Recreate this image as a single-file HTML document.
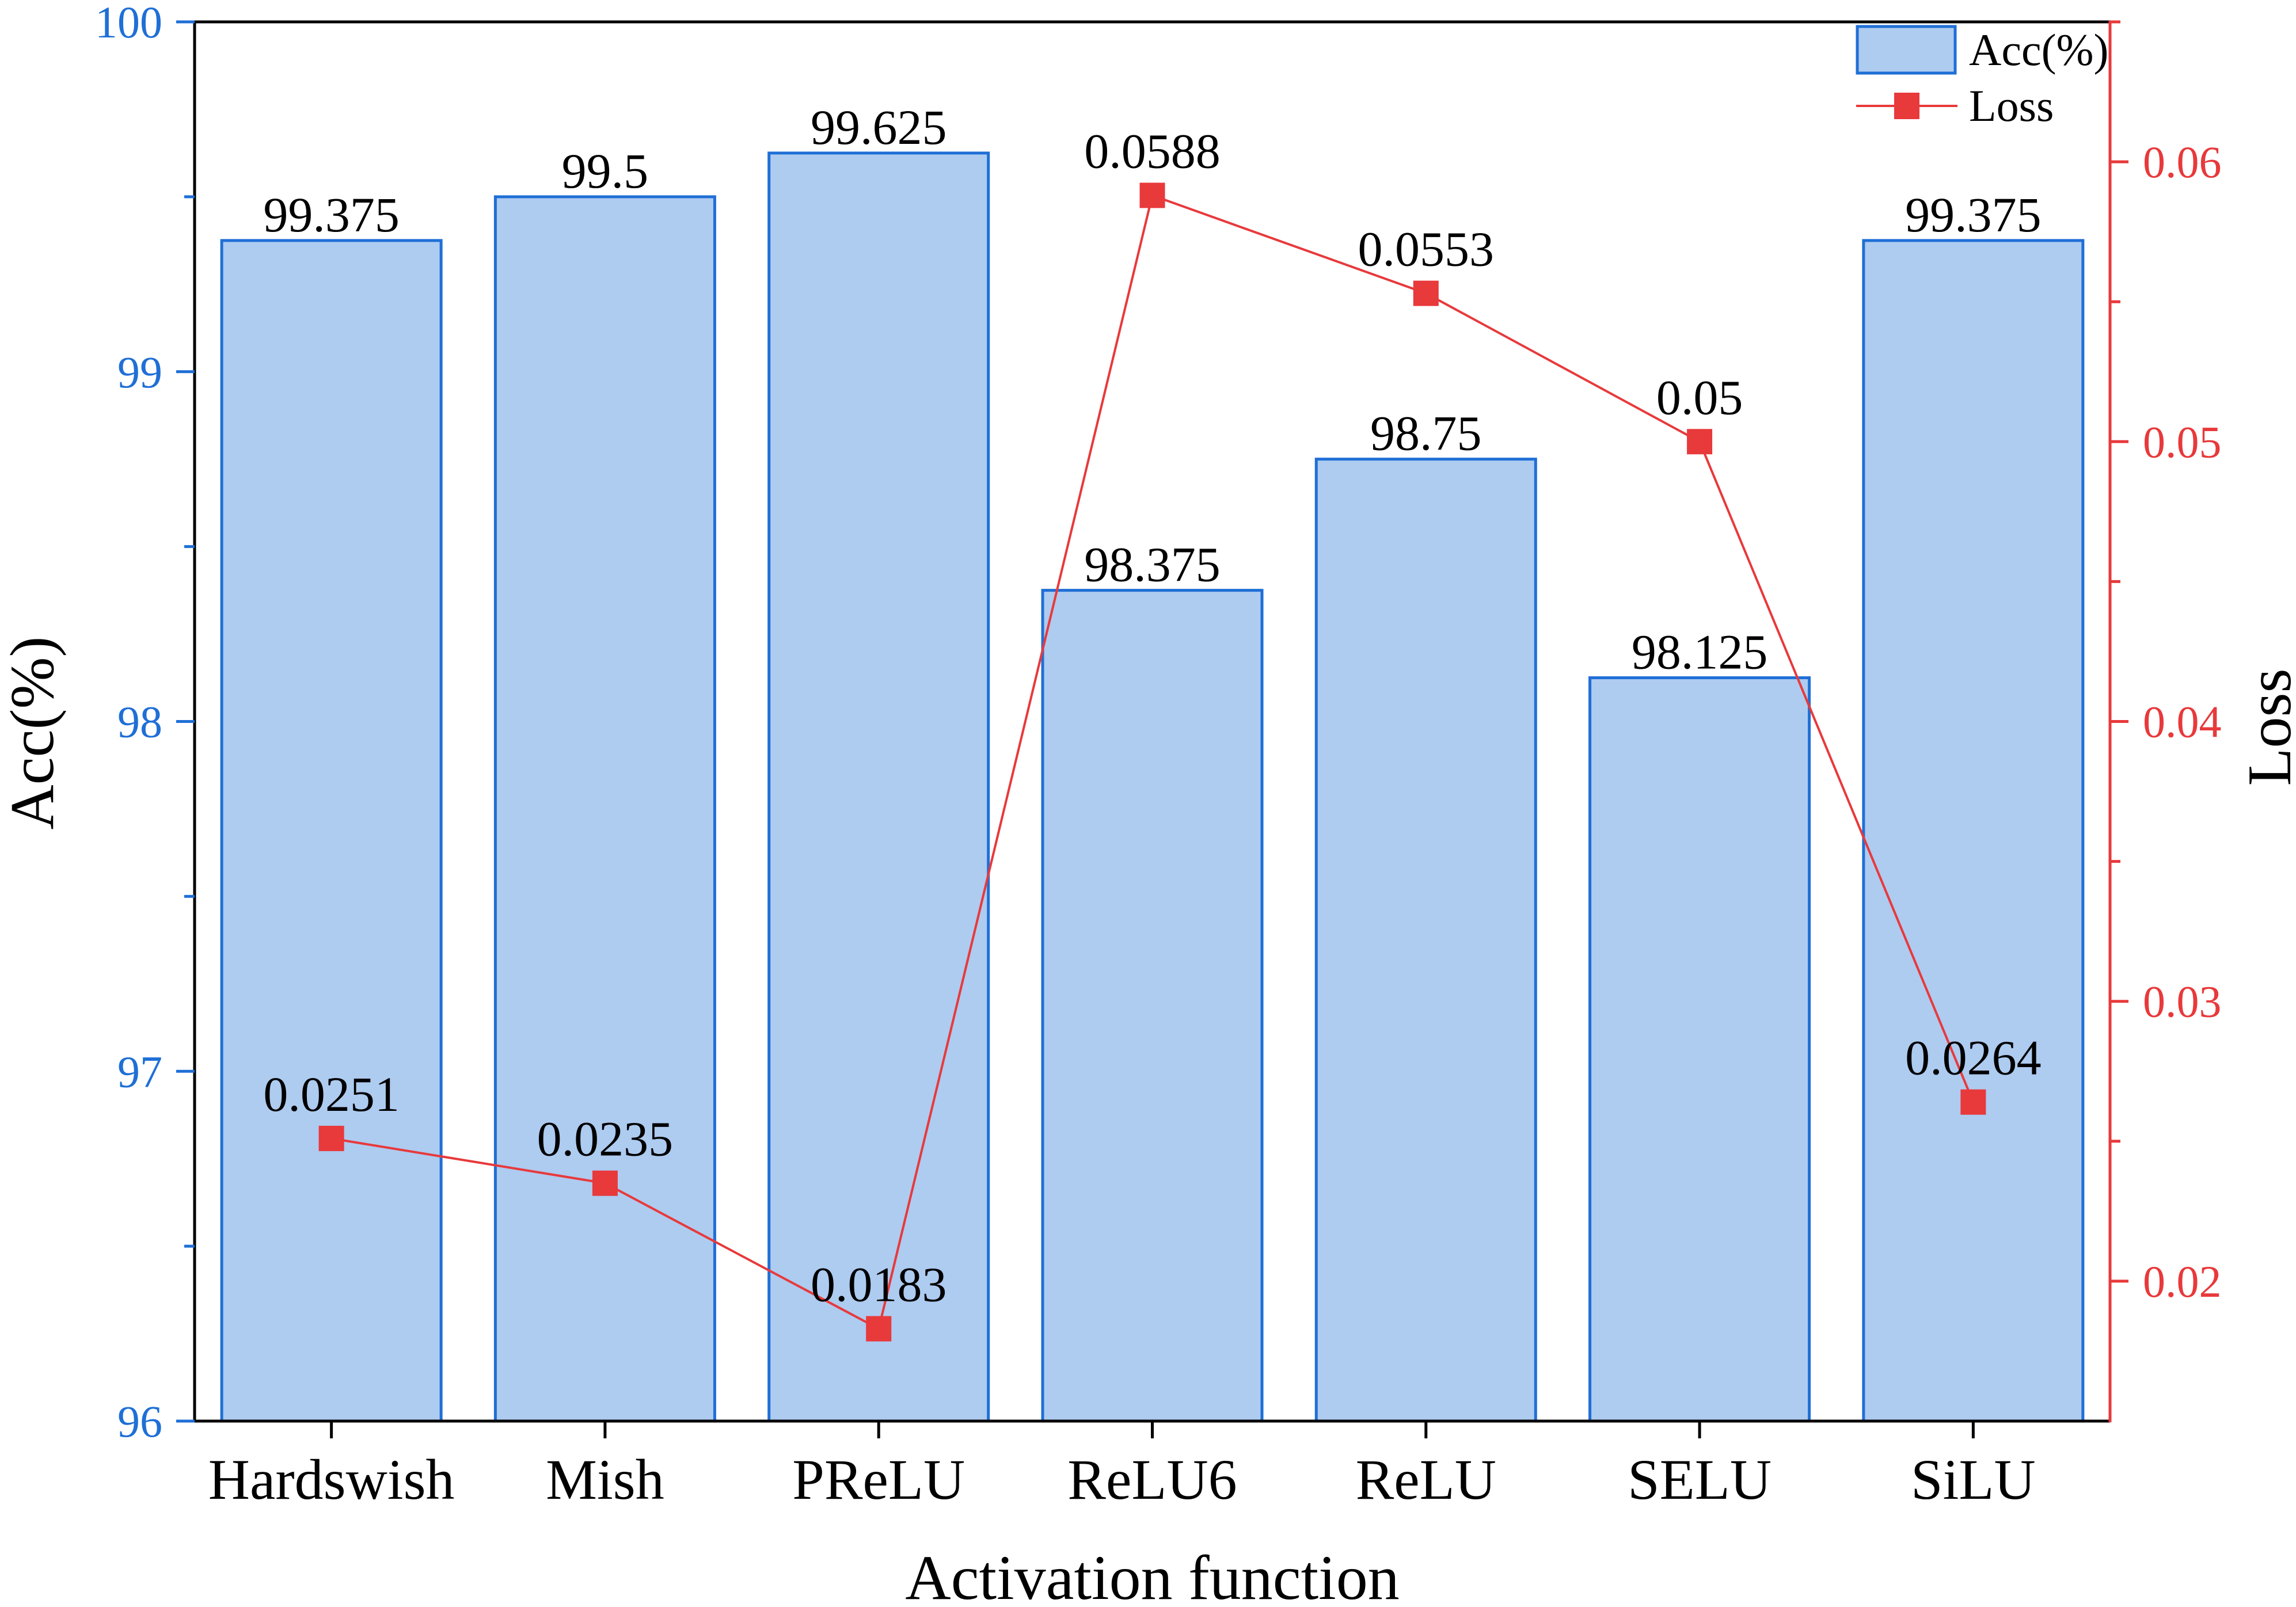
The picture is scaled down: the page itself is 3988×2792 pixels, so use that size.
<!DOCTYPE html>
<html><head><meta charset="utf-8"><style>
html,body{margin:0;padding:0;background:#fff;}
svg{display:block;font-family:"Liberation Serif",serif;}
</style></head><body>
<svg id="chart" width="3988" height="2792" viewBox="0 0 3988 2792" xmlns="http://www.w3.org/2000/svg">
<g id="bars"></g>
<g id="line"></g>
<g id="axes"></g>
<g id="legend">
  <rect x="3226" y="46" width="170" height="81" fill="#aecbf0" stroke="#1f6fd6" stroke-width="5"/>
  <text x="3420" y="113" font-size="78" fill="#000">Acc(%)</text>
  <line x1="3224" y1="184" x2="3400" y2="184" stroke="#e8393b" stroke-width="4"/>
  <rect x="3290" y="161" width="44" height="46" fill="#e8393b"/>
  <text x="3420" y="210" font-size="78" fill="#000">Loss</text>
</g>
</svg>
<script>
const categories = ["Hardswish","Mish","PReLU","ReLU6","ReLU","SELU","SiLU"];
const accValues = [99.375, 99.5, 99.625, 98.375, 98.75, 98.125, 99.375];
const accLabels = ["99.375","99.5","99.625","98.375","98.75","98.125","99.375"];
const lossValues = [0.0251, 0.0235, 0.0183, 0.0588, 0.0553, 0.05, 0.0264];
const lossLabels = ["0.0251","0.0235","0.0183","0.0588","0.0553","0.05","0.0264"];
const leftTicks = [96, 97, 98, 99, 100];
const rightTicks = [0.02, 0.03, 0.04, 0.05, 0.06];
const rightTickLabels = ["0.02","0.03","0.04","0.05","0.06"];

const NS = "http://www.w3.org/2000/svg";
const L = 338, R = 3665, T = 38, B = 2469;
const yAcc = v => B - (v - 96) / 4 * (B - T);
const yLoss = v => B - (v - 0.015) / 0.05 * (B - T);
const band = (R - L) / categories.length;
const xCat = i => L + band * (i + 0.5);
const barW = 381;

function mk(tag, attrs, parent, text) {
  const e = document.createElementNS(NS, tag);
  for (const k in attrs) e.setAttribute(k, attrs[k]);
  if (text !== undefined) e.textContent = text;
  parent.appendChild(e);
  return e;
}
const gBars = document.getElementById("bars");
const gLine = document.getElementById("line");
const gAxes = document.getElementById("axes");

categories.forEach((c, i) => {
  const y = yAcc(accValues[i]);
  const r = mk("rect", {x: xCat(i) - barW/2, y: y, width: barW, height: B - y, fill: "#aecbf0", stroke: "#1f6fd6", "stroke-width": 5}, gBars);
  
  
  const t = mk("text", {x: xCat(i), y: y - 16, "font-size": 86, "text-anchor": "middle", fill: "#000"}, gBars, accLabels[i]);
  
  
});

const pts = lossValues.map((v, i) => xCat(i) + "," + yLoss(v)).join(" ");
const pl = mk("polyline", {points: pts, fill: "none", stroke: "#e8393b", "stroke-width": 4}, gLine);


lossValues.forEach((v, i) => {
  const m = mk("rect", {x: xCat(i) - 22, y: yLoss(v) - 22, width: 44, height: 44, fill: "#e8393b"}, gLine);
  
  
  const t = mk("text", {x: xCat(i), y: yLoss(v) - 48, "font-size": 86, "text-anchor": "middle", fill: "#000"}, gLine, lossLabels[i]);
  
  
});

let e;
e = mk("line", {x1: L, y1: T, x2: R, y2: T, stroke: "#000", "stroke-width": 5}, gAxes);
 
e = mk("line", {x1: L, y1: B, x2: R, y2: B, stroke: "#000", "stroke-width": 5}, gAxes);
 
e = mk("line", {x1: L, y1: T - 2, x2: L, y2: B + 2, stroke: "#000", "stroke-width": 5}, gAxes);
 
e = mk("line", {x1: R, y1: T - 2, x2: R, y2: B + 2, stroke: "#e8393b", "stroke-width": 5}, gAxes);
 

for (let v = 96; v <= 100.001; v += 0.5) {
  const major = Math.abs(v - Math.round(v)) < 1e-6;
  e = mk("line", {x1: L - (major ? 32 : 18), y1: yAcc(v), x2: L, y2: yAcc(v), stroke: "#1f6fd6", "stroke-width": 5}, gAxes);
   
}
leftTicks.forEach(v => {
  e = mk("text", {x: 282, y: yAcc(v) + 27, "font-size": 78, "text-anchor": "end", fill: "#1f6fd6"}, gAxes, String(v));
   
});
for (let k = 0; k <= 9; k++) {
  const v = 0.02 + k * 0.005;
  const major = k % 2 === 0;
  e = mk("line", {x1: R, y1: yLoss(v), x2: R + (major ? 32 : 18), y2: yLoss(v), stroke: "#e8393b", "stroke-width": 5}, gAxes);
   
}
rightTicks.forEach((v, i) => {
  e = mk("text", {x: 3722, y: yLoss(v) + 27, "font-size": 78, fill: "#e8393b"}, gAxes, rightTickLabels[i]);
   
});
categories.forEach((c, i) => {
  e = mk("line", {x1: xCat(i), y1: B, x2: xCat(i), y2: B + 30, stroke: "#000", "stroke-width": 5}, gAxes);
   
  e = mk("text", {x: xCat(i), y: 2604, "font-size": 100, "text-anchor": "middle", fill: "#000"}, gAxes, c);
   
});
e = mk("text", {x: (L + R) / 2, y: 2778, "font-size": 110, "text-anchor": "middle", fill: "#000"}, gAxes, "Activation function");
 
e = mk("text", {x: 0, y: 0, "font-size": 108, "text-anchor": "middle", fill: "#000", transform: "translate(92," + ((T + B) / 2 + 20) + ") rotate(-90)"}, gAxes, "Acc(%)");
 
e = mk("text", {x: 0, y: 0, "font-size": 108, "text-anchor": "middle", fill: "#000", transform: "translate(3978," + ((T + B) / 2 + 10) + ") rotate(-90)"}, gAxes, "Loss");
 
</script>
</body></html>
